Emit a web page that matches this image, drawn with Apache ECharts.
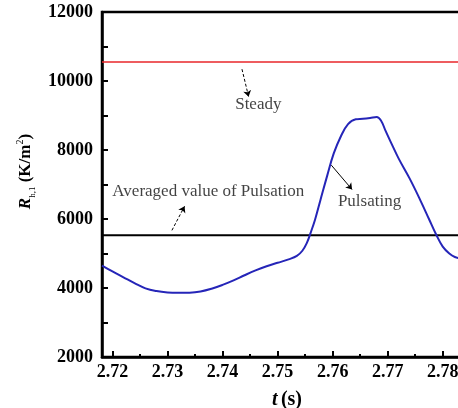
<!DOCTYPE html>
<html>
<head>
<meta charset="utf-8">
<script src="https://cdn.jsdelivr.net/npm/echarts@6/dist/echarts.min.js"></script>
<style>
  html, body { margin: 0; padding: 0; background: #fff; }
  #chart { width: 458px; height: 408px; }
</style>
</head>
<body>
<div id="chart"></div>
<script>
// Time axis (s) and thermal resistance R_h,1 (K/m^2)
var tMin = 2.7181, tMax = 2.7835;
var xTicks = [2.72, 2.73, 2.74, 2.75, 2.76, 2.77, 2.78];
var xMinorTicks = [2.725, 2.735, 2.745, 2.755, 2.765, 2.775];
var yTicks = [2000, 4000, 6000, 8000, 10000, 12000];

// Pulsating flow: sampled curve
var pulseT = [2.7181, 2.7200, 2.7220, 2.7240, 2.7260, 2.7280, 2.7300, 2.7320, 2.7340, 2.7360,
              2.7380, 2.7400, 2.7420, 2.7440, 2.7460, 2.7480, 2.7500, 2.7520, 2.7535, 2.7545,
              2.7553, 2.7560, 2.7568, 2.7578, 2.7590, 2.7602, 2.7615, 2.7628, 2.7642, 2.7655,
              2.7668, 2.7680, 2.7688, 2.7696, 2.7705, 2.7720, 2.7740, 2.7760, 2.7775, 2.7788,
              2.7800, 2.7812, 2.7822, 2.7835];
var pulseR = [4650, 4480, 4310, 4140, 3990, 3910, 3870, 3860, 3865, 3900,
              3980, 4090, 4220, 4370, 4510, 4630, 4730, 4830, 4930, 5080,
              5300, 5600, 5980, 6560, 7250, 7900, 8400, 8750, 8890, 8905,
              8930, 8960, 8850, 8560, 8250, 7750, 7170, 6520, 6000, 5550,
              5200, 5000, 4900, 4850];

// Constant levels
var steadyR = 10550;
var averagedR = 5530;

// Annotation texts and arrows (data coordinates)
var notes = [
  { text: 'Steady', t: 2.7465, r: 9330 },
  { text: 'Averaged value of Pulsation', t: 2.7374, r: 6790 },
  { text: 'Pulsating', t: 2.7667, r: 6500 }
];
var arrows = [
  { from: [2.74353, 10343], to: [2.74473, 9547], dashed: true },
  { from: [2.7308, 5671], to: [2.7331, 6369], dashed: true },
  { from: [2.75976, 7561], to: [2.76353, 6855], dashed: false }
];

var serif = 'Liberation Serif, Times New Roman, serif';
var chart = echarts.init(document.getElementById('chart'));

var pulseData = pulseT.map(function (t, i) { return [t, pulseR[i]]; });

chart.setOption({
  animation: false,
  backgroundColor: '#fff',
  grid: { left: 102, top: 12, right: -4, bottom: 51, outerBoundsMode: 'none', containLabel: false,
    show: true, borderColor: '#000', borderWidth: 2.5 },
  xAxis: [{
    type: 'value', min: tMin, max: tMax,
    axisLine: { show: true, lineStyle: { color: '#000', width: 2.5 } },
    axisTick: { show: true, inside: true, length: 6, customValues: xTicks, lineStyle: { color: '#000', width: 2 } },
    axisLabel: { customValues: xTicks, color: '#000', fontFamily: serif, fontWeight: 'bold', fontSize: 18, margin: 6,
      formatter: function (v) { return v.toFixed(2); } },
    splitLine: { show: false },
    name: '{i|t} {n|(s)}', nameLocation: 'middle', nameGap: 33,
    nameTextStyle: { padding: [0, 0, 0, 10], rich: {
      i: { fontFamily: serif, fontWeight: 'bold', fontStyle: 'italic', fontSize: 20, color: '#000' },
      n: { fontFamily: serif, fontWeight: 'bold', fontSize: 20, color: '#000' }
    } }
  }, {
    type: 'value', min: tMin, max: tMax, position: 'bottom',
    axisLine: { show: false },
    axisTick: { show: true, inside: true, length: 3, customValues: xMinorTicks, lineStyle: { color: '#000', width: 2 } },
    axisLabel: { show: false },
    splitLine: { show: false }
  }],
  yAxis: {
    type: 'value', min: 2000, max: 12000, interval: 2000,
    axisLine: { show: true, lineStyle: { color: '#000', width: 2.5 } },
    axisTick: { show: true, inside: true, length: 6, lineStyle: { color: '#000', width: 2 } },
    minorTick: { show: true, splitNumber: 2, length: 6, lineStyle: { color: '#000', width: 2 } },
    axisLabel: { color: '#000', fontFamily: serif, fontWeight: 'bold', fontSize: 18, margin: 9,
      formatter: function (v) { return String(v); } },
    splitLine: { show: false },
    name: '{r|R}{sub|h,1}{n| (K/m}{sup|2}{n|)}', nameLocation: 'middle', nameGap: 61, nameRotate: 90,
    nameTextStyle: { padding: [0, 0, 0, 26], rich: {
      r: { fontFamily: serif, fontWeight: 'bold', fontStyle: 'italic', fontSize: 17, color: '#000', lineHeight: 22, verticalAlign: 'middle' },
      sub: { fontFamily: serif, fontSize: 9, color: '#000', lineHeight: 22, verticalAlign: 'bottom' },
      n: { fontFamily: serif, fontWeight: 'bold', fontSize: 17, color: '#000', lineHeight: 22, verticalAlign: 'middle' },
      sup: { fontFamily: serif, fontSize: 10, color: '#000', lineHeight: 22, verticalAlign: 'top' }
    } }
  },
  series: [
    {
      type: 'line', data: [[tMin, steadyR], [tMax, steadyR]], symbol: 'none',
      lineStyle: { color: '#e8262a', width: 1.5 }, z: 3
    },
    {
      type: 'line', data: [[tMin, averagedR], [tMax, averagedR]], symbol: 'none',
      lineStyle: { color: '#000', width: 2 }, z: 3
    },
    {
      type: 'line', data: pulseData, symbol: 'none', smooth: 0.4,
      lineStyle: { color: '#2525b8', width: 2 }, z: 4
    },
    {
      type: 'lines', coordinateSystem: 'cartesian2d', polyline: false,
      symbol: ['none', 'arrow'], symbolSize: 6,
      data: arrows.filter(function (a) { return a.dashed; }).map(function (a) { return { coords: [a.from, a.to] }; }),
      lineStyle: { color: '#000', width: 1, type: [3, 2], opacity: 1 }, z: 5
    },
    {
      type: 'lines', coordinateSystem: 'cartesian2d', polyline: false,
      symbol: ['none', 'arrow'], symbolSize: 6,
      data: arrows.filter(function (a) { return !a.dashed; }).map(function (a) { return { coords: [a.from, a.to] }; }),
      lineStyle: { color: '#000', width: 1, opacity: 1 }, z: 5
    },
    {
      type: 'scatter', symbolSize: 0,
      data: notes.map(function (n) { return { value: [n.t, n.r], name: n.text }; }),
      label: { show: true, position: 'inside', formatter: '{b}', color: '#111',
        fontFamily: serif, fontSize: 17 },
      z: 6
    }
  ]
});
</script>
</body>
</html>
